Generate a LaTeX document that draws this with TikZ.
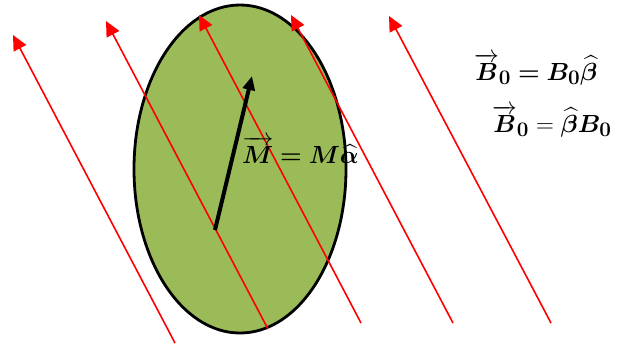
\documentclass[tikz,border=0pt]{standalone}
\usepackage{amsmath,bm}
\usetikzlibrary{arrows.meta,shapes.geometric}
\definecolor{leaf}{RGB}{155,187,89}
\begin{document}
\begin{tikzpicture}[x=1bp,y=-1bp,
  ray/.style={draw=red,line width=1.6bp,-{Triangle[length=15bp,width=14bp]}},
  moment/.style={draw=black,line width=4bp,-{Triangle[length=14bp,width=12bp]}},
  eq/.style={inner sep=0pt,anchor=base west,font=\fontsize{28}{33}\selectfont}]
\useasboundingbox (0,0) rectangle (632,345);
\node[draw=black,line width=2.8bp,fill=leaf,shape=ellipse,minimum width=212bp,minimum height=328bp,inner sep=0pt] (body) at (240,169) {};
\coordinate (a1) at (175,343); \coordinate (b1) at (13,35);
\coordinate (a2) at (268,329); \coordinate (b2) at (106,21);
\coordinate (a3) at (361,323); \coordinate (b3) at (199,15);
\coordinate (a4) at (453,323); \coordinate (b4) at (291,15);
\coordinate (a5) at (551,323); \coordinate (b5) at (389,16);
\foreach \i in {1,...,5}{\draw[ray] (a\i) -- (b\i);}
\coordinate (m0) at (215,230); \coordinate (m1) at (252,76);
\draw[moment] (m0) -- (m1);
\node[eq] (meq) at (242,163) {$\overrightarrow{\bm{M}} \mathrel{\bm{=}} \bm{M\widehat{\alpha}}$};
\node[eq] (beq1) at (474,80) {$\overrightarrow{\bm{B}}_{\bm{0}} \mathrel{\bm{=}} \bm{B_0\widehat{\beta}}$};
\node[eq] (beq2) at (492,132) {$\overrightarrow{\bm{B}}_{\bm{0}} = \bm{\widehat{\beta}B_0}$};
\end{tikzpicture}
\end{document}
